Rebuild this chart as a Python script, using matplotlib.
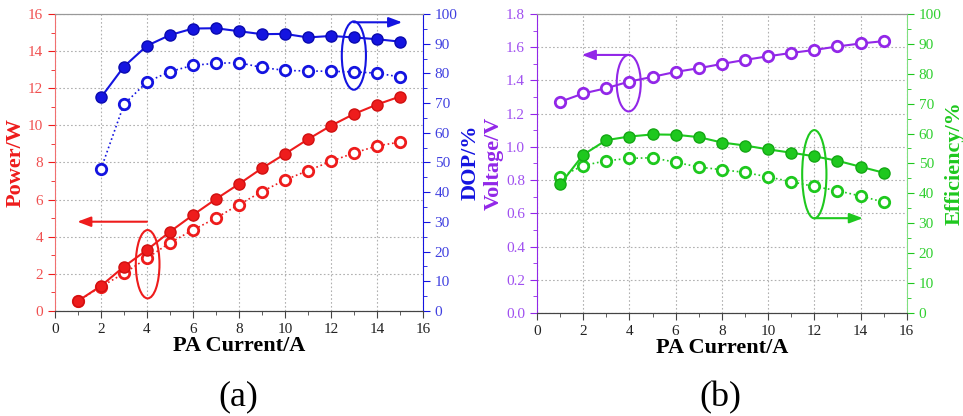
import matplotlib.pyplot as plt
from matplotlib.patches import Ellipse
import numpy as np

plt.rcParams['font.family'] = ['Liberation Serif', 'DejaVu Serif']

current = list(range(1, 16))
current_dop = list(range(2, 16))

# (a) power and DOP
power_solid = [0.54, 1.35, 2.39, 3.29, 4.27, 5.17, 6.03, 6.84, 7.69, 8.46, 9.25, 9.98, 10.61, 11.12, 11.55]
power_dot = [0.54, 1.31, 2.03, 2.84, 3.68, 4.36, 5.01, 5.73, 6.43, 7.06, 7.56, 8.06, 8.51, 8.89, 9.10]
dop_solid = [71.9, 82.3, 89.3, 92.9, 95.1, 95.2, 94.2, 93.2, 93.3, 92.1, 92.6, 92.1, 91.5, 90.7]
dop_dot = [47.8, 69.6, 77.1, 80.6, 82.7, 83.4, 83.6, 82.0, 81.0, 80.8, 80.7, 80.5, 80.1, 78.8]

# (b) voltage and efficiency
voltage = [1.271, 1.321, 1.353, 1.393, 1.421, 1.451, 1.473, 1.499, 1.523, 1.545, 1.565, 1.583, 1.604, 1.622, 1.636]
eff_solid = [43.0, 52.9, 57.8, 59.0, 59.7, 59.6, 58.8, 57.0, 56.0, 54.7, 53.6, 52.4, 50.9, 48.9, 46.9]
eff_dot = [45.5, 49.3, 50.9, 51.7, 51.9, 50.4, 48.8, 47.9, 47.0, 45.5, 43.9, 42.3, 40.9, 39.1, 37.1]

RED = '#ee1c1c'
BLUE = '#1414e0'
PURPLE = '#9227e8'
GREEN = '#1ec81e'

fig = plt.figure(figsize=(9.63, 4.16), dpi=100)
ax1 = fig.add_axes([0.0571, 0.2524, 0.382, 0.714])
ax3 = fig.add_axes([0.5576, 0.2476, 0.384, 0.719])


def style_axes(ax, twin, lcol, rcol, llab, rlab):
    ax.set_xlim(0, 16)
    ax.set_xticks(np.arange(0, 17, 2))
    ax.set_xticks(np.arange(0, 17, 1), minor=True)
    ax.grid(True, which='major', linestyle=(0, (1.5, 2)), color='#b0b0b0', linewidth=0.8)
    for a in (ax, twin):
        a.spines['top'].set_color('#999999')
        a.spines['bottom'].set_color('#444444')
        a.tick_params(which='both', direction='out', labelsize=11)
        a.tick_params(which='major', length=5)
        a.tick_params(which='minor', length=3)
    ax.spines['left'].set_color(lcol)
    ax.spines['right'].set_visible(False)
    twin.spines['left'].set_visible(False)
    twin.spines['right'].set_color(rcol)
    ax.tick_params(axis='y', which='both', colors=lcol)
    twin.tick_params(axis='y', which='both', colors=rcol)
    ax.tick_params(axis='x', which='both', colors='#444444', labelcolor='#222222')
    ax.set_ylabel(llab, fontsize=16, fontweight='bold', color=lcol, labelpad=2)
    twin.set_ylabel(rlab, fontsize=16, fontweight='bold', color=rcol, labelpad=2)
    ax.set_xlabel('PA Current/A', fontsize=16, fontweight='bold', labelpad=0)


def arrow(ax, start, end, col):
    ax.annotate('', xy=end, xytext=start,
                arrowprops=dict(arrowstyle='-|>,head_length=0.8,head_width=0.3',
                                color=col, lw=1.5, shrinkA=0, shrinkB=0))


# ---------- (a) ----------
ax2 = ax1.twinx()
ax1.plot(current, power_solid, '-', color=RED, lw=1.5, marker='o', ms=8,
         mfc=RED, mec='#d01010', zorder=5)
ax1.plot(current, power_dot, ':', color=RED, lw=1.2, marker='o', ms=7.5,
         mfc='white', mec=RED, mew=2, zorder=4)
ax2.plot(current_dop, dop_solid, '-', color=BLUE, lw=1.5, marker='o', ms=8,
         mfc=BLUE, mec='#0a0ab0', zorder=5)
ax2.plot(current_dop, dop_dot, ':', color=BLUE, lw=1.2, marker='o', ms=7.5,
         mfc='white', mec=BLUE, mew=2, zorder=4)
ax1.set_ylim(0, 16)
ax1.set_yticks(np.arange(0, 17, 2))
ax1.set_yticks(np.arange(0, 17, 1), minor=True)
ax2.set_ylim(0, 100)
ax2.set_yticks(np.arange(0, 101, 10))
ax2.set_yticks(np.arange(0, 101, 5), minor=True)
style_axes(ax1, ax2, RED, BLUE, 'Power/W', 'DOP/%')
ax1.tick_params(axis='y', labelcolor='#f05050')
ax2.tick_params(axis='y', labelcolor='#4040e0')
ax1.spines['left'].set_color('#f07070')

ax1.add_patch(Ellipse((4.03, 2.52), 1.03, 3.68, fill=False, ec=RED, lw=1.5, zorder=6))
arrow(ax1, (4.0, 4.81), (0.97, 4.81), RED)
ax2.add_patch(Ellipse((13.0, 86.0), 1.05, 23.0, fill=False, ec=BLUE, lw=1.5, zorder=6))
arrow(ax2, (13.0, 97.2), (15.1, 97.2), BLUE)

# ---------- (b) ----------
ax4 = ax3.twinx()
ax3.plot(current, voltage, '-', color=PURPLE, lw=1.5, marker='o', ms=7.5,
         mfc='white', mec=PURPLE, mew=2, zorder=5)
ax4.plot(current, eff_solid, '-', color=GREEN, lw=1.5, marker='o', ms=8,
         mfc=GREEN, mec='#14a814', zorder=5)
ax4.plot(current, eff_dot, ':', color=GREEN, lw=1.2, marker='o', ms=7.5,
         mfc='white', mec=GREEN, mew=2, zorder=4)
ax3.set_ylim(0, 1.8)
ax3.set_yticks(np.arange(0, 1.81, 0.2))
ax3.set_yticks(np.arange(0, 1.81, 0.1), minor=True)
ax3.yaxis.set_major_formatter(plt.FormatStrFormatter('%.1f'))
ax4.set_ylim(0, 100)
ax4.set_yticks(np.arange(0, 101, 10))
ax4.set_yticks(np.arange(0, 101, 5), minor=True)
style_axes(ax3, ax4, PURPLE, GREEN, 'Voltage/V', 'Efficiency/%')
ax3.tick_params(axis='y', labelcolor='#a050f0')
ax4.tick_params(axis='y', labelcolor='#30d030')
ax4.spines['right'].set_color('#80e080')

ax3.add_patch(Ellipse((3.97, 1.383), 1.04, 0.34, fill=False, ec=PURPLE, lw=1.5, zorder=6))
arrow(ax3, (4.0, 1.553), (1.94, 1.553), PURPLE)
ax4.add_patch(Ellipse((12.0, 46.4), 1.05, 29.5, fill=False, ec=GREEN, lw=1.5, zorder=6))
arrow(ax4, (12.0, 31.7), (14.1, 31.7), GREEN)

fig.text(0.247, 0.045, '(a)', fontsize=26, ha='center', va='center')
fig.text(0.748, 0.045, '(b)', fontsize=26, ha='center', va='center')

plt.savefig('out.png', dpi=100)
